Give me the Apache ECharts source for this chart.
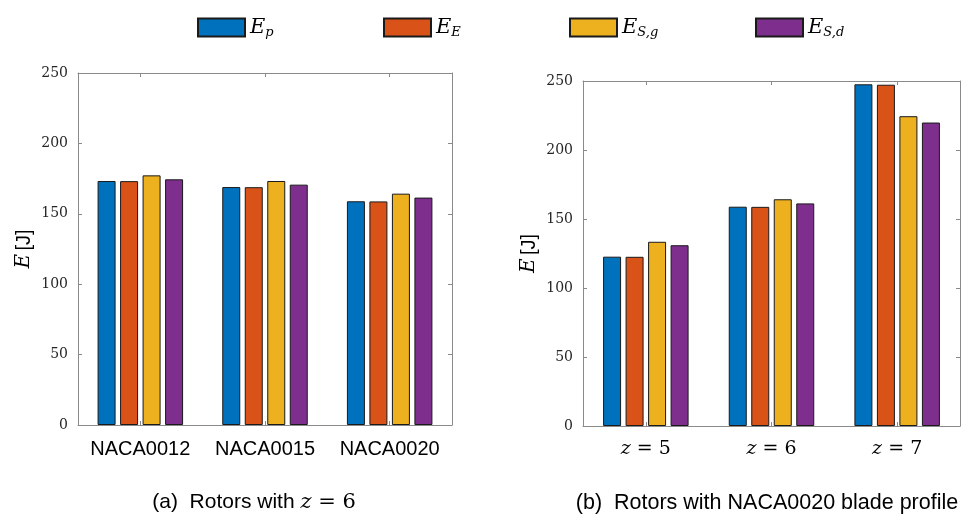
<!DOCTYPE html>
<html>
<head>
<meta charset="utf-8">
<script src="https://cdn.jsdelivr.net/npm/echarts@6/dist/echarts.min.js"></script>
<style>html,body{margin:0;padding:0;background:#fff;}#c{width:972px;height:516px;}</style>
</head>
<body>
<div id="c"></div>
<script>
// ---- data ----
const seriesNames = ['Ep', 'EE', 'ESg', 'ESd'];
const legendSubs = ['p', 'E', 'S,g', 'S,d'];
const catsA = ['NACA0012', 'NACA0015', 'NACA0020'];
const catsB = ['5', '6', '7'];
const yTicks = [0, 50, 100, 150, 200, 250];
const a_Ep  = [173.3, 169.0, 158.9];
const a_EE  = [173.2, 168.9, 158.8];
const a_ESg = [177.3, 173.3, 164.3];
const a_ESd = [174.5, 170.7, 161.5];
const b_Ep  = [122.7, 158.9, 247.6];
const b_EE  = [122.6, 158.8, 247.3];
const b_ESg = [133.5, 164.3, 224.5];
const b_ESd = [131.0, 161.3, 219.9];
const captionA = ['(a)  Rotors with ', 'z', ' = 6'];
const captionB = '(b)  Rotors with NACA0020 blade profile';

const colors = ['#0072BD', '#D95319', '#EDB120', '#7E2F8E'];
const axisGray = '#8a8a8a';
const serif = '"DejaVu Serif", serif';
const sans = '"Liberation Sans", Arial, sans-serif';

const chart = echarts.init(document.getElementById('c'), null, {renderer: 'canvas'});

const yMin = yTicks[0], yMax = yTicks[yTicks.length - 1], yInt = yTicks[1] - yTicks[0];

function yAxes(grid) {
  return [
    {
      type: 'value', gridIndex: grid, position: 'left', min: yMin, max: yMax, interval: yInt,
      axisLine: {show: true, lineStyle: {color: axisGray, width: 1}},
      axisTick: {show: true, inside: true, length: 4, lineStyle: {color: axisGray}},
      axisLabel: {color: '#262626', fontFamily: serif, fontSize: 14, margin: 10},
      splitLine: {show: false},
      name: '{i|E} {s|[J]}', nameLocation: 'middle', nameGap: 44,
      nameTextStyle: {rich: {
        i: {fontFamily: serif, fontStyle: 'italic', fontSize: 20, color: '#000'},
        s: {fontFamily: sans, fontSize: 20, color: '#000'}
      }}
    },
    {
      type: 'value', gridIndex: grid, position: 'right', min: yMin, max: yMax, interval: yInt,
      axisLine: {show: true, lineStyle: {color: axisGray, width: 1}},
      axisTick: {show: true, inside: true, length: 4, lineStyle: {color: axisGray}},
      axisLabel: {show: false}, splitLine: {show: false}
    }
  ];
}

function xAxes(grid, cats, labelOpt) {
  return [
    {
      type: 'category', gridIndex: grid, data: cats, position: 'bottom',
      axisLine: {show: true, onZero: false, lineStyle: {color: axisGray, width: 1}},
      axisTick: {show: true, inside: true, alignWithLabel: true, length: 4, lineStyle: {color: axisGray}},
      splitLine: {show: false},
      axisLabel: Object.assign({interval: 0, hideOverlap: false}, labelOpt)
    },
    {
      type: 'category', gridIndex: grid, data: cats, position: 'top',
      axisLine: {show: true, onZero: false, lineStyle: {color: axisGray, width: 1}},
      axisTick: {show: true, inside: true, alignWithLabel: true, length: 4, lineStyle: {color: axisGray}},
      axisLabel: {show: false}, splitLine: {show: false}
    }
  ];
}

const dataA = [a_Ep, a_EE, a_ESg, a_ESd];
const dataB = [b_Ep, b_EE, b_ESg, b_ESd];

const series = [];
[dataA, dataB].forEach((set, g) => {
  set.forEach((vals, i) => {
    series.push({
      type: 'bar', name: seriesNames[i], xAxisIndex: g * 2, yAxisIndex: g * 2,
      data: vals, barWidth: 18, barGap: '25%',
      itemStyle: {color: colors[i], borderColor: '#1a1a1a', borderWidth: 1},
      emphasis: {disabled: true}, animation: false
    });
  });
});

const legendLeft = [192, 378, 564, 750];
const legends = seriesNames.map((n, i) => ({
  data: [n], left: legendLeft[i], top: 12, icon: 'rect', itemWidth: 47, itemHeight: 18,
  selectedMode: false,
  formatter: () => '{e|E}{s|' + legendSubs[i] + '}',
  textStyle: {rich: {
    e: {fontFamily: serif, fontStyle: 'italic', fontSize: 21, lineHeight: 24, color: '#000'},
    s: {fontFamily: serif, fontStyle: 'italic', fontSize: 13, lineHeight: 13, verticalAlign: 'bottom', color: '#000'}
  }}
}));

const option = {
  animation: false,
  color: colors,
  legend: legends,
  grid: [
    {left: 78, right: 520, top: 73, bottom: 91},
    {left: 583, right: 12, top: 81, bottom: 90}
  ],
  xAxis: [
    ...xAxes(0, catsA, {color: '#000', fontFamily: sans, fontSize: 20, margin: 14}),
    ...xAxes(1, catsB, {
      margin: 14,
      formatter: v => '{i|z}{r| = ' + v + '}',
      rich: {
        i: {fontFamily: serif, fontStyle: 'italic', fontSize: 19, color: '#000'},
        r: {fontFamily: serif, fontSize: 19, color: '#000'}
      }
    })
  ],
  yAxis: [...yAxes(0), ...yAxes(1)],
  title: [
    {
      text: '{s|' + captionA[0] + '}{i|' + captionA[1] + '}{r|' + captionA[2] + '}',
      left: 249, top: 487, textAlign: 'center',
      textStyle: {fontWeight: 'normal', rich: {
        s: {fontFamily: sans, fontSize: 21, fontWeight: 'normal', color: '#000'},
        i: {fontFamily: serif, fontStyle: 'italic', fontSize: 21, fontWeight: 'normal', color: '#000'},
        r: {fontFamily: serif, fontSize: 21, fontWeight: 'normal', color: '#000'}
      }}
    },
    {
      text: captionB, left: 762, top: 487, textAlign: 'center',
      textStyle: {fontFamily: sans, fontSize: 21.5, fontWeight: 'normal', color: '#000'}
    }
  ],
  series: series
};
chart.setOption(option);
</script>
</body>
</html>
